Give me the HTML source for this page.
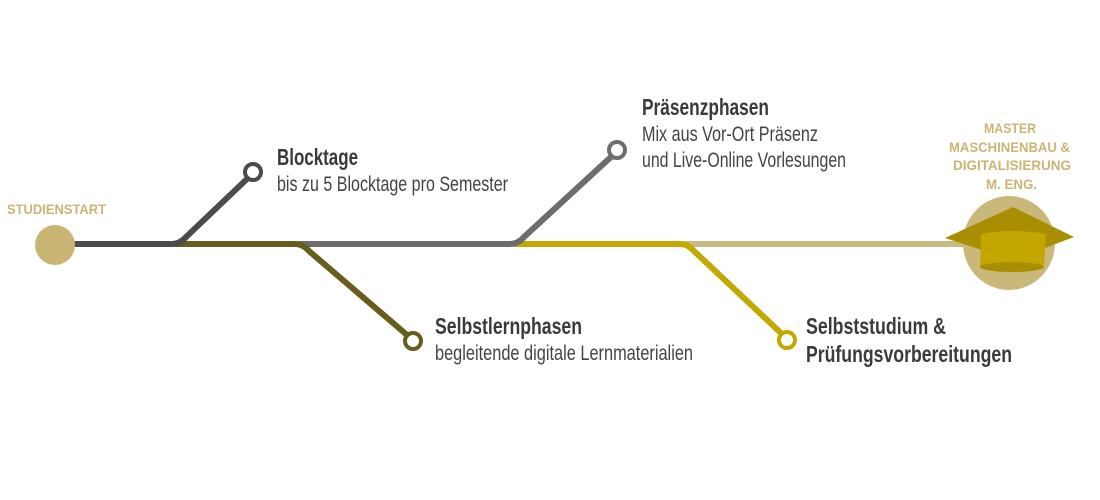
<!DOCTYPE html>
<html><head><meta charset="utf-8"><style>
html,body{margin:0;padding:0;background:#fff;}
svg{display:block;}
text{font-family:"Liberation Sans",sans-serif;}
.b{font-weight:bold;fill:#3a3a3a;font-size:23px;}
.l{fill:#444;font-size:21px;}
.g{font-weight:bold;fill:#c9b574;font-size:14px;}
</style></head><body>
<svg width="1100" height="500" viewBox="0 0 1100 500" fill="none" stroke-width="6" stroke-linecap="round" stroke-linejoin="round">
<path d="M685 244 L965 244" stroke="#c9bb80"/>
<path d="M515 244 L680 244 Q688 244 694 251 L782 334" stroke="#c2a800"/>
<path d="M300 244 L510 244 Q518 244 524 237 L612 156" stroke="#6e6d6d"/>
<path d="M175 244 L295 244 Q303 244 309 251 L407 335" stroke="#675d1d"/>
<path d="M75 244 L172 244 Q180 244 186 237 L248 178" stroke="#4c4b4b"/>
<circle cx="253" cy="172" r="8" fill="#fff" stroke="#4c4b4b" stroke-width="4"/>
<circle cx="617" cy="150" r="8" fill="#fff" stroke="#6e6d6d" stroke-width="4"/>
<circle cx="413" cy="341" r="8" fill="#fff" stroke="#675d1d" stroke-width="4"/>
<circle cx="787" cy="340" r="8" fill="#fff" stroke="#c2a800" stroke-width="4"/>
<circle cx="55" cy="245" r="20" fill="#c9b574" stroke="none"/>
<ellipse cx="1009" cy="243" rx="46" ry="47" fill="#c9b87a" stroke="none"/>
<polygon points="1013,207 1074,237 1013,260 945,238" fill="#a88e00" stroke="none"/>
<path d="M981 234 Q1012 228 1046 234 L1044 266 Q1012 261 980 267 Z" fill="#c3a700" stroke="none"/>
<ellipse cx="1012" cy="267" rx="32" ry="5" fill="#a88e00" stroke="none"/>
<g stroke="none">
<text class="g" x="7" y="214" textLength="99" lengthAdjust="spacingAndGlyphs">STUDIENSTART</text>
<text class="b" x="277" y="165" textLength="81" lengthAdjust="spacingAndGlyphs">Blocktage</text>
<text class="l" x="277" y="191" textLength="231" lengthAdjust="spacingAndGlyphs">bis zu 5 Blocktage pro Semester</text>
<text class="b" x="642" y="115" textLength="127" lengthAdjust="spacingAndGlyphs">Präsenzphasen</text>
<text class="l" x="642" y="141" textLength="176" lengthAdjust="spacingAndGlyphs">Mix aus Vor-Ort Präsenz</text>
<text class="l" x="642" y="167" textLength="204" lengthAdjust="spacingAndGlyphs">und Live-Online Vorlesungen</text>
<text class="b" x="435" y="334" textLength="147" lengthAdjust="spacingAndGlyphs">Selbstlernphasen</text>
<text class="l" x="435" y="360" textLength="258" lengthAdjust="spacingAndGlyphs">begleitende digitale Lernmaterialien</text>
<text class="b" x="806" y="334" textLength="140" lengthAdjust="spacingAndGlyphs">Selbststudium &amp;</text>
<text class="b" x="806" y="362" textLength="206" lengthAdjust="spacingAndGlyphs">Prüfungsvorbereitungen</text>
<text class="g" x="984" y="133" textLength="52" lengthAdjust="spacingAndGlyphs">MASTER</text>
<text class="g" x="949" y="152" textLength="121" lengthAdjust="spacingAndGlyphs">MASCHINENBAU &amp;</text>
<text class="g" x="953" y="170" textLength="118" lengthAdjust="spacingAndGlyphs">DIGITALISIERUNG</text>
<text class="g" x="986" y="189" textLength="51" lengthAdjust="spacingAndGlyphs">M. ENG.</text>
</g>
</svg>
</body></html>
